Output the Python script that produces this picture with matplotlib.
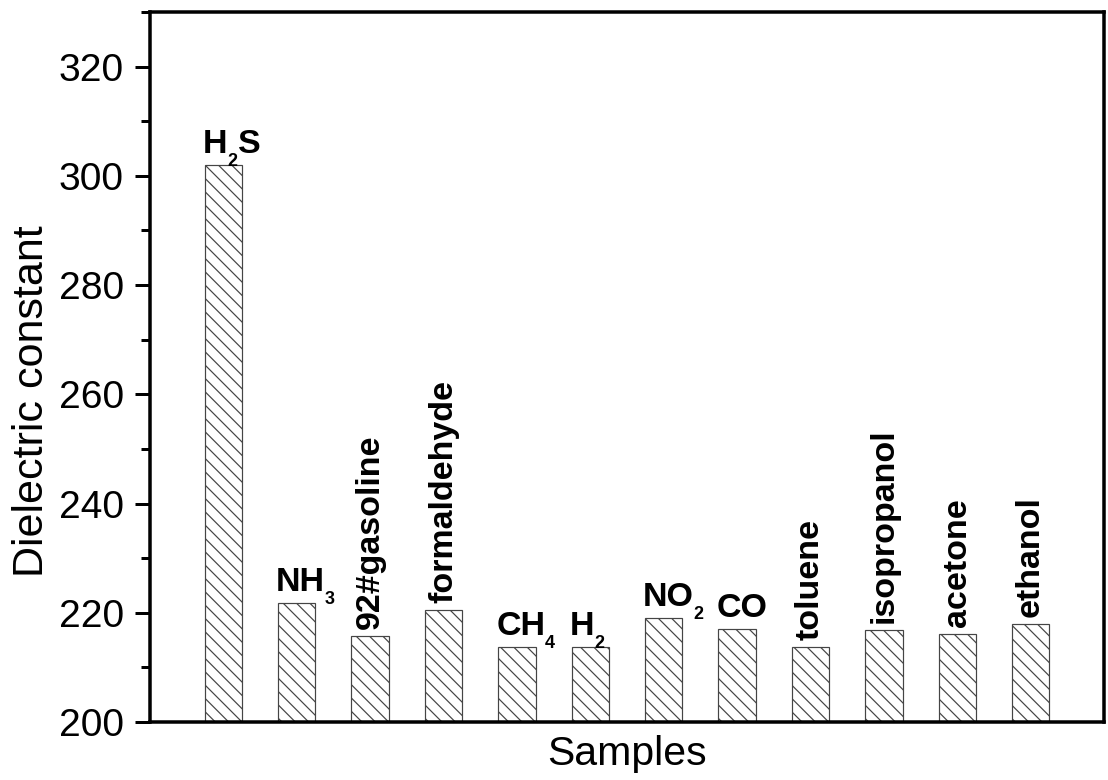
import numpy as np
import matplotlib
matplotlib.use("Agg")
import matplotlib.pyplot as plt
from matplotlib.ticker import MultipleLocator

# Measured dielectric constant of the sensing film in each gas / vapour
samples = ["H2S", "NH3", "92#gasoline", "formaldehyde", "CH4", "H2",
           "NO2", "CO", "toluene", "isopropanol", "acetone", "ethanol"]
values = [301.9, 221.7, 215.7, 220.5, 213.7, 213.8,
          219.0, 217.1, 213.7, 216.9, 216.2, 218.0]

# Chemical formulas written as (body, subscript, tail)
formulas = {
    "H2S": ("H", "2", "S"),
    "NH3": ("NH", "3", ""),
    "CH4": ("CH", "4", ""),
    "H2": ("H", "2", ""),
    "NO2": ("NO", "2", ""),
    "CO": ("CO", "", ""),
}

y_ticks = [200, 220, 240, 260, 280, 300, 320]

DPI = 80


def px(v):
    """Convert a size in pixels to points at the figure resolution."""
    return v * 72.0 / DPI


plt.rcParams["font.family"] = ["Liberation Sans", "DejaVu Sans"]
plt.rcParams["hatch.linewidth"] = px(1.2)

fig = plt.figure(figsize=(1108 / DPI, 780 / DPI), dpi=DPI)
ax = fig.add_axes([150 / 1108, 58 / 780, 954 / 1108, 710 / 780])

base = 200
x = np.arange(1, len(samples) + 1)
bar_w = 0.51
heights = np.array(values) - base
ax.bar(x, heights, bottom=base, width=bar_w, facecolor="white",
       edgecolor="#454545", linewidth=px(1.2), hatch="\\\\", zorder=2)

ax.set_xlim(0, 13)
ax.set_ylim(200, 330)
ax.set_yticks(y_ticks)
ax.yaxis.set_minor_locator(MultipleLocator(10))
ax.set_xticks([])

for side in ["left", "right", "top", "bottom"]:
    ax.spines[side].set_linewidth(px(3.5))
    ax.spines[side].set_zorder(3)

ax.tick_params(axis="y", which="major", direction="out", length=px(15),
               width=px(3), labelsize=px(39), pad=px(11))
ax.tick_params(axis="y", which="minor", direction="out", length=px(9),
               width=px(3))

ax.set_ylabel("Dielectric constant", fontsize=px(43))
ax.yaxis.set_label_coords(-0.1027, 0.4514)
ax.set_xlabel("Samples", fontsize=px(41))
ax.xaxis.set_label_coords(0.5, -0.0183)

label_size = px(34)
sub_size = px(18)

for xi, name, v in zip(x, samples, values):
    if name in formulas:
        body, sub, tail = formulas[name]
        main = ax.annotate(body, xy=(xi - bar_w / 2, v),
                           xytext=(px(-2), px(12)), textcoords="offset points",
                           ha="left", va="baseline", fontsize=label_size,
                           fontweight="bold", zorder=4)
        prev = main
        if sub:
            prev = ax.annotate(sub, xy=(1, v), xycoords=(main, "data"),
                               xytext=(0, px(-1)), textcoords="offset points",
                               ha="left", va="baseline", fontsize=sub_size,
                               fontweight="bold", zorder=4)
        if tail:
            ax.annotate(tail, xy=(1, v), xycoords=(prev, "data"),
                        xytext=(px(1), px(12)), textcoords="offset points",
                        ha="left", va="baseline", fontsize=label_size,
                        fontweight="bold", zorder=4)
    else:
        ax.annotate(name, xy=(xi, v), xytext=(0, px(7)),
                    textcoords="offset points", rotation=90,
                    ha="center", va="bottom", fontsize=label_size,
                    fontweight="bold", zorder=4)

fig.savefig("out.png", dpi=DPI, facecolor="white")
